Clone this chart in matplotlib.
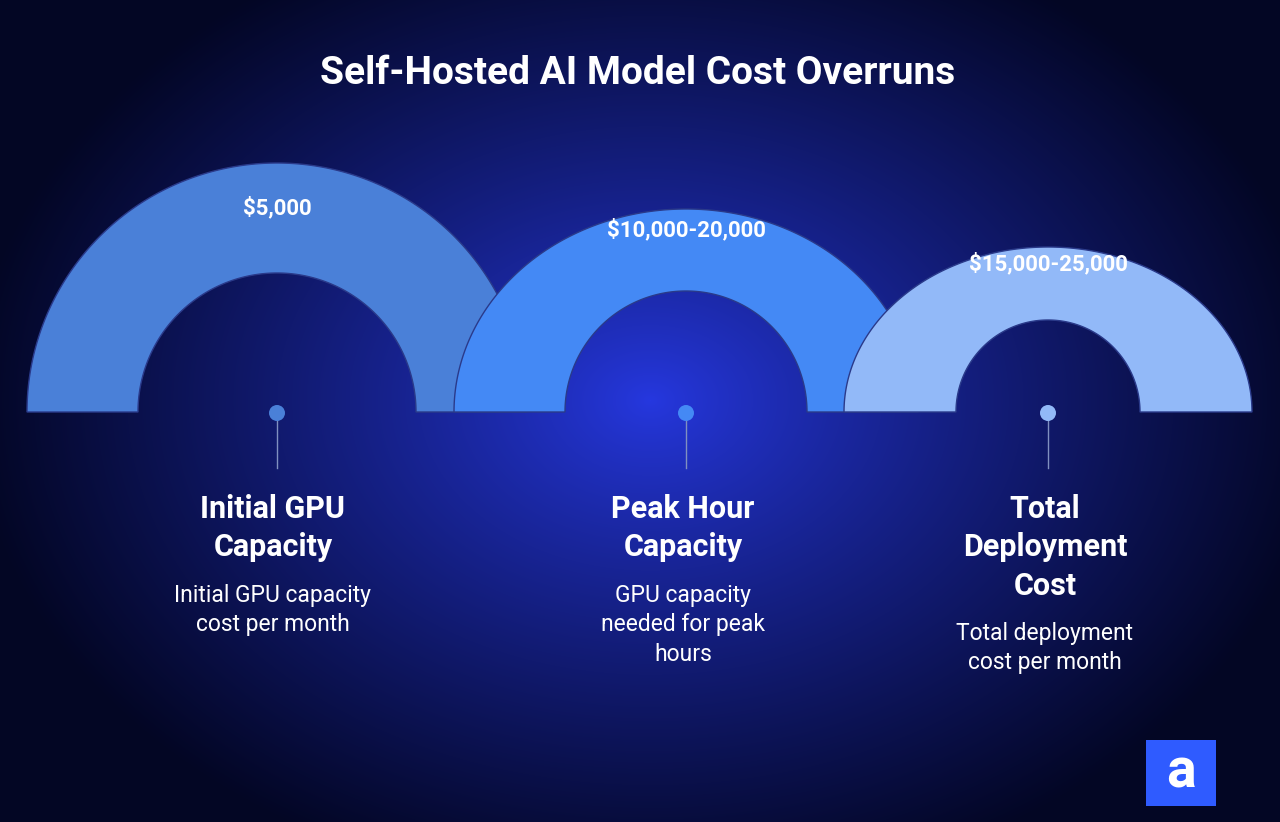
import numpy as np
import matplotlib
matplotlib.use("Agg")
from matplotlib import pyplot as plt
from matplotlib.patches import Polygon, Circle, Rectangle

plt.rcParams['font.family'] = ['Roboto', 'DejaVu Sans']

title = "Self-Hosted AI Model Cost Overruns"
values = ["$5,000", "$10,000-20,000", "$15,000-25,000"]
headers = ["Initial GPU\nCapacity", "Peak Hour\nCapacity", "Total\nDeployment\nCost"]
descs = ["Initial GPU capacity\ncost per month", "GPU capacity\nneeded for peak\nhours", "Total deployment\ncost per month"]
colors = ["#4a80d8", "#4489f5", "#92b9f8"]

# arch geometry in pixels: center x, outer rx, outer ry, inner r
centers = [277, 686, 1048]
text_x = [273, 683, 1045]
outer_rx = [250, 232, 204]
outer_ry = [249, 203, 165]
inner_r = [139, 121, 92]
value_y = [208, 230, 264]
base_y = 412

fig = plt.figure(figsize=(12.8, 8.22), dpi=100)
ax = fig.add_axes([0, 0, 1, 1])
ax.set_xlim(0, 1280)
ax.set_ylim(822, 0)
ax.axis('off')

# radial background
yy, xx = np.mgrid[0:822, 0:1280]
d = np.sqrt(((xx - 650) / 680.0) ** 2 + ((yy - 400) / 500.0) ** 2)
d = np.clip(d, 0, 1)
c0 = np.array([0x26, 0x38, 0xe0]) / 255
c1 = np.array([0x03, 0x06, 0x24]) / 255
t = d[..., None] ** 0.85
img = c0 * (1 - t) + c1 * t
ax.imshow(img, extent=[0, 1280, 822, 0], zorder=0)

th = np.linspace(0, np.pi, 200)
for i in range(3):
    cx = centers[i]
    ox = cx + outer_rx[i] * np.cos(th)
    oy = base_y - outer_ry[i] * np.sin(th)
    ix = cx + inner_r[i] * np.cos(th[::-1])
    iy = base_y - inner_r[i] * np.sin(th[::-1])
    pts = np.column_stack([np.r_[ox, ix], np.r_[oy, iy]])
    ax.add_patch(Polygon(pts, closed=True, facecolor=colors[i], edgecolor='#2a3a8a',
                         lw=1, zorder=2 + i))
    ax.text(cx, value_y[i], values[i], color='white', fontsize=16,
            fontweight='bold', ha='center', va='center', zorder=6)
    ax.plot([cx, cx], [base_y, 468], color='#8090c0', lw=1, zorder=6)
    ax.add_patch(Circle((cx, 413), 8, facecolor=colors[i], edgecolor='none', zorder=7))
    nh = headers[i].count("\n") + 1
    ax.text(text_x[i], 494, headers[i], color='white', fontsize=22, fontweight='bold',
            ha='center', va='top', linespacing=1.35, zorder=6)
    ax.text(text_x[i], 584 + (nh - 2) * 38, descs[i], color='white', fontsize=16.5,
            ha='center', va='top', linespacing=1.35, zorder=6)

ax.text(638, 73, title, color='white', fontsize=28, fontweight='bold',
        ha='center', va='center', zorder=6)

# logo
ax.add_patch(Rectangle((1146, 740), 70, 66, facecolor='#2f5bff', edgecolor='none', zorder=6))
ax.text(1181, 772, "a", color='white', fontsize=40, fontweight='bold',
        ha='center', va='center', zorder=7)

fig.savefig("out.png", dpi=100)
